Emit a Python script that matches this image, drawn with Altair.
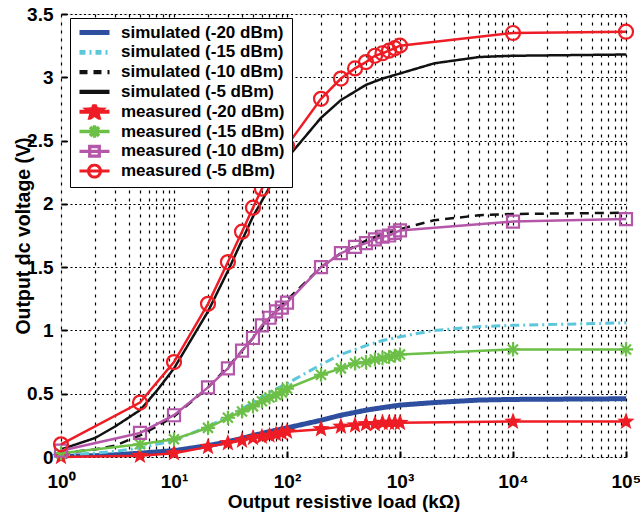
import math
import altair as alt
import pandas as pd

# ---------------- data ----------------
names = ["simulated (-20 dBm)", "simulated (-15 dBm)", "simulated (-10 dBm)", "simulated (-5 dBm)",
         "measured (-20 dBm)", "measured (-15 dBm)", "measured (-10 dBm)", "measured (-5 dBm)"]

sim_r = [1, 2, 3, 5, 7, 10, 20, 30, 50, 70, 100, 200, 300, 500, 700, 1000, 2000, 5000, 10000, 100000]
sim_m20 = [0.005, 0.01, 0.017, 0.03, 0.04, 0.05, 0.09, 0.12, 0.17, 0.20, 0.23, 0.29, 0.33, 0.37, 0.39, 0.41, 0.43, 0.45, 0.455, 0.46]
sim_m15 = [0.015, 0.03, 0.045, 0.07, 0.10, 0.13, 0.24, 0.32, 0.43, 0.51, 0.58, 0.73, 0.81, 0.88, 0.92, 0.95, 1.0, 1.03, 1.04, 1.06]
sim_m10 = [0.03, 0.06, 0.09, 0.17, 0.24, 0.32, 0.55, 0.71, 0.94, 1.10, 1.24, 1.50, 1.61, 1.71, 1.76, 1.80, 1.87, 1.91, 1.92, 1.93]
sim_m5 = [0.06, 0.15, 0.24, 0.37, 0.52, 0.70, 1.15, 1.47, 1.90, 2.13, 2.36, 2.68, 2.82, 2.94, 2.99, 3.03, 3.11, 3.16, 3.17, 3.18]

meas_r = [1, 5, 10, 20, 30, 40, 50, 60, 70, 80, 90, 100, 200, 300, 400, 500, 600, 700, 800, 900, 1000, 10000, 100000]
meas_m20 = [0.0, 0.01, 0.03, 0.08, 0.11, 0.13, 0.15, 0.16, 0.17, 0.18, 0.19, 0.20, 0.22, 0.24, 0.25, 0.26, 0.26, 0.27, 0.27, 0.27, 0.27, 0.28, 0.28]
meas_m15 = [0.03, 0.10, 0.14, 0.23, 0.31, 0.36, 0.40, 0.44, 0.47, 0.49, 0.51, 0.54, 0.65, 0.70, 0.74, 0.75, 0.77, 0.78, 0.79, 0.80, 0.81, 0.85, 0.85]
meas_m10 = [0.05, 0.19, 0.33, 0.55, 0.70, 0.84, 0.94, 1.04, 1.10, 1.15, 1.18, 1.22, 1.50, 1.61, 1.66, 1.69, 1.72, 1.74, 1.75, 1.77, 1.79, 1.86, 1.88]
meas_m5 = [0.10, 0.43, 0.75, 1.21, 1.54, 1.78, 1.97, 2.12, 2.24, 2.33, 2.40, 2.46, 2.83, 2.99, 3.07, 3.12, 3.17, 3.19, 3.21, 3.23, 3.25, 3.35, 3.36]

y_ticks = [0, 0.5, 1, 1.5, 2, 2.5, 3, 3.5]
x_grid = [m * 10 ** k for k in range(5) for m in range(1, 10)] + [100000]

# ---------------- styles ----------------
BLUE, CYAN, BLACK, RED, GREEN, PURPLE = "#2E4F9F", "#5CC6DC", "#111111", "#EE1C25", "#6CBF47", "#B557A9"
FONT = "Liberation Sans"


def star_path(ro, ri):
    pts = []
    for k in range(10):
        r = ro if k % 2 == 0 else ri
        a = math.radians(-90 + 36 * k)
        pts.append((r * math.cos(a), r * math.sin(a)))
    return "M" + "L".join(f"{x:.3f},{y:.3f}" for x, y in pts) + "Z"


def asterisk_path(r):
    d = r * 0.7071
    return (f"M0,{-r}V{r}M{-r},0H{r}M{-d:.3f},{-d:.3f}L{d:.3f},{d:.3f}"
            f"M{-d:.3f},{d:.3f}L{d:.3f},{-d:.3f}")


def square_path(h):
    return f"M{-h},{-h}H{h}V{h}H{-h}Z"


def circle_path(r):
    return f"M{r},0A{r},{r} 0 1,1 {-r},0A{r},{r} 0 1,1 {r},0Z"


LINE = "M-1,0H1"

# ---------------- tables ----------------
sim_df = pd.concat([
    pd.DataFrame({"r": sim_r, "v": vals, "series": nm})
    for nm, vals in zip(names[:4], [sim_m20, sim_m15, sim_m10, sim_m5])
])
meas_df = pd.concat([
    pd.DataFrame({"r": meas_r, "v": vals, "series": nm})
    for nm, vals in zip(names[4:], [meas_m20, meas_m15, meas_m10, meas_m5])
])

is_decade = "abs(log(datum.value)/LN10 - round(log(datum.value)/LN10)) < 0.001"
label_expr = (is_decade + " ? '10' + ['⁰','¹','²','³','⁴','⁵'][round(log(datum.value)/LN10)] : ''")

TICK = 6
x_enc = alt.X("r:Q", scale=alt.Scale(type="log", domain=[1, 100000]),
              axis=alt.Axis(values=x_grid, labelExpr=label_expr, grid=True, gridDash=[3, 5],
                            gridColor="black", gridOpacity=1, gridWidth=1.2, domain=False,
                            ticks=True, tickSize=TICK, tickWidth=2, tickColor="black", offset=-TICK,
                            tickOpacity={"condition": {"test": is_decade, "value": 1}, "value": 0},
                            labelFont=FONT, labelFontSize=19, labelFontWeight="bold", labelColor="black",
                            labelOverlap=False, labelFlush=False, labelPadding=15,
                            title="Output resistive load (kΩ)", titleFont=FONT, titleFontSize=19,
                            titleFontWeight="bold", titleColor="black",
                            titleY=50, titleBaseline="middle"))
y_enc = alt.Y("v:Q", scale=alt.Scale(domain=[0, 3.5]),
              axis=alt.Axis(values=y_ticks, format="~g", grid=True, gridDash=[2, 2.5],
                            gridColor="black", gridOpacity=1, gridWidth=1.2, domain=False,
                            ticks=True, tickSize=TICK, tickWidth=2, tickColor="black", offset=-TICK,
                            labelFont=FONT, labelFontSize=19, labelFontWeight="bold", labelColor="black",
                            labelPadding=8, title="Output dc voltage (V)", titleFont=FONT,
                            titleFontSize=19.5, titleFontWeight="bold", titleColor="black",
                            titleX=-44, titleAngle=270, titleAlign="center", titleBaseline="middle"))

layers = []
sim_styles = [(BLUE, 5, [1, 0]), (CYAN, 3, [9, 4, 2, 4]), (BLACK, 2.5, [9, 6]), (BLACK, 2.5, [1, 0])]
for nm, (col, w, dash) in zip(names[:4], sim_styles):
    layers.append(alt.Chart(sim_df).transform_filter(alt.datum.series == nm)
                  .mark_line(color=col, strokeWidth=w, strokeDash=dash, clip=True)
                  .encode(x=x_enc, y=y_enc))

meas_styles = [
    (RED, star_path(1, 0.42), 330, True),
    (GREEN, asterisk_path(1), 200, False),
    (PURPLE, square_path(1), 144, False),
    (RED, "circle", 196, False),
]
for nm, (col, shp, sz, filled) in zip(names[4:], meas_styles):
    base = alt.Chart(meas_df).transform_filter(alt.datum.series == nm)
    layers.append(base.mark_line(color=col, strokeWidth=2.5).encode(x=x_enc, y=y_enc))
    layers.append(base.mark_point(shape=shp, size=sz, filled=filled, color=col, strokeWidth=2.2,
                                  opacity=1).encode(x=x_enc, y=y_enc))

# ---------------- legend (from a legend-only layer) ----------------
leg_shapes = [LINE, LINE, LINE, LINE,
              LINE + star_path(0.5, 0.21), LINE + asterisk_path(0.42),
              LINE + square_path(0.32), LINE + circle_path(0.4)]
leg_strokes = [BLUE, CYAN, BLACK, BLACK, RED, GREEN, PURPLE, RED]
leg_fills = ["transparent"] * 4 + [RED, "transparent", "transparent", "transparent"]
leg_dashes = [[1, 0], [6, 4, 2, 4], [8, 6], [1, 0], [1, 0], [1, 0], [1, 0], [1, 0]]
leg_widths = [5, 3, 2.5, 2.5, 2.5, 2.5, 2.5, 2.5]

leg = alt.Legend(title=None, orient="none", legendX=9, legendY=4, fillColor="white",
                 strokeColor="black", padding=7, labelFont=FONT, labelFontSize=17,
                 labelFontWeight="bold", labelColor="black", labelOffset=9, labelLimit=400,
                 symbolSize=900, clipHeight=15, rowPadding=1.8, symbolOpacity=1)
legend_df = pd.DataFrame({"series": names, "r": [None] * 8, "v": [None] * 8})
legend_layer = alt.Chart(legend_df).mark_point(size=900, opacity=1).encode(
    x=x_enc, y=y_enc,
    shape=alt.Shape("series:N", scale=alt.Scale(domain=names, range=leg_shapes), legend=leg),
    stroke=alt.Stroke("series:N", scale=alt.Scale(domain=names, range=leg_strokes), legend=leg),
    fill=alt.Fill("series:N", scale=alt.Scale(domain=names, range=leg_fills), legend=leg),
    strokeDash=alt.StrokeDash("series:N", scale=alt.Scale(domain=names, range=leg_dashes), legend=leg),
    strokeWidth=alt.StrokeWidth("series:N", scale=alt.Scale(domain=names, range=leg_widths), legend=leg),
)
layers.append(legend_layer)

chart = alt.layer(*layers).properties(
    width=565, height=443,
    autosize=alt.AutoSizeParams(type="none"),
    padding={"left": 61, "top": 14, "right": 14, "bottom": 55},
).configure_view(stroke="black", strokeWidth=2.5).configure(background="white")

chart.save("out.html", embed_options={"renderer": "svg", "actions": False})
